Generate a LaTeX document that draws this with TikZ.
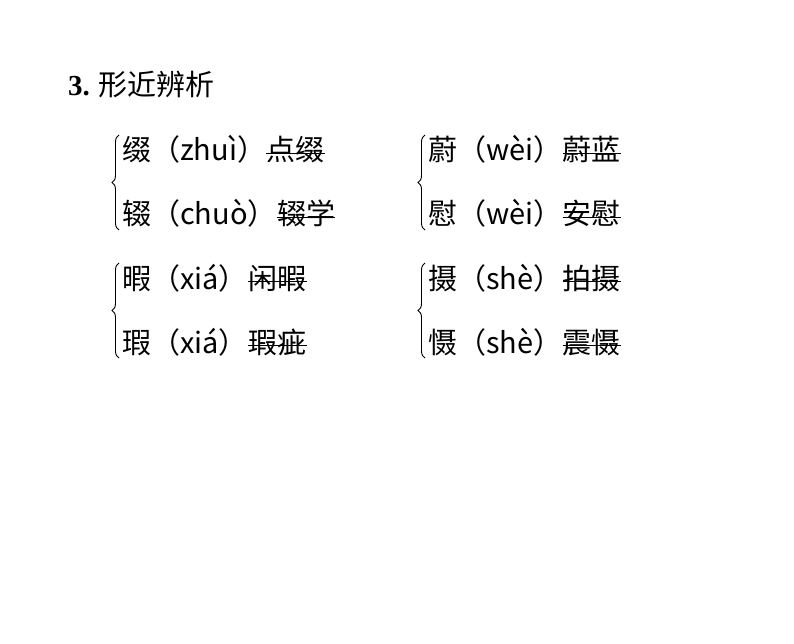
\documentclass[tikz,border=0pt]{standalone}
\usepackage{fontspec}
\newfontfamily\cjk{Noto Sans CJK SC}
\newfontfamily\ser{Liberation Serif}
\usetikzlibrary{decorations.pathreplacing}
\begin{document}
\begin{tikzpicture}[x=1pt,y=-1pt,
  txt/.style={inner sep=0pt,font=\cjk\fontsize{29}{34}\selectfont,anchor=base west},
  br/.style={decorate,decoration={brace,amplitude=7pt},line width=0.9pt},
  ul/.style={line width=0.9pt}]
\useasboundingbox (0,0) rectangle (794,644);
\node[txt] (t) at (68,96) {{\ser\bfseries 3.} 形近辨析};
\newcommand\wordrow[5]{%
  \node[txt] (#1a) at (#2,#3) {#4};
  \node[txt] (#1b) at (#1a.base east) {#5};
  \draw[ul] ([yshift=8pt]#1b.base west) -- ([yshift=8pt]#1b.base east);}
\wordrow{a}{122}{161}{缀（zhuì）}{点缀}
\wordrow{b}{122}{225}{辍（chuò）}{辍学}
\wordrow{c}{122}{289}{暇（xiá）}{闲暇}
\wordrow{d}{122}{353}{瑕（xiá）}{瑕疵}
\wordrow{e}{428}{161}{蔚（wèi）}{蔚蓝}
\wordrow{f}{428}{225}{慰（wèi）}{安慰}
\wordrow{g}{428}{289}{摄（shè）}{拍摄}
\wordrow{h}{428}{353}{慑（shè）}{震慑}
\coordinate (p1) at (119,135); \coordinate (q1) at (119,230);
\coordinate (p2) at (119,263); \coordinate (q2) at (119,358);
\coordinate (p3) at (425,135); \coordinate (q3) at (425,230);
\coordinate (p4) at (425,263); \coordinate (q4) at (425,358);
\draw[br] (q1) -- (p1);
\draw[br] (q2) -- (p2);
\draw[br] (q3) -- (p3);
\draw[br] (q4) -- (p4);
\end{tikzpicture}
\end{document}
